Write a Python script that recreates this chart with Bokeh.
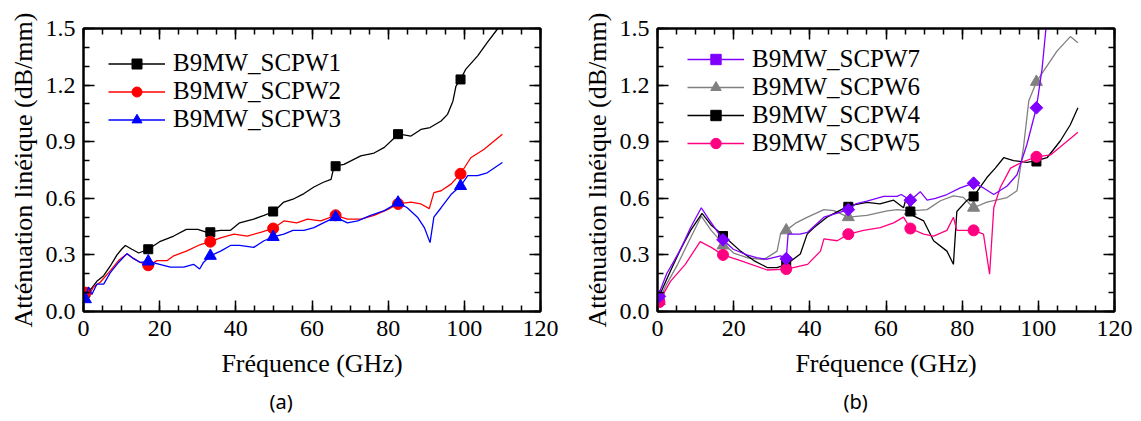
import math
from bokeh.plotting import figure
from bokeh.models import (FixedTicker, PrintfTickFormatter, LinearAxis, Range1d,
                          Legend, LegendItem, Title)
from bokeh.layouts import row
from bokeh.embed import file_html
from bokeh.resources import INLINE

# ---------------- data : panel (a) ----------------
f1 = [0.3, 1, 2, 3.5, 5.3, 7, 8.8, 10, 11, 12.7, 14.5, 17, 20, 23.7, 27, 30, 32.4, 36, 38.6, 41,
      44.7, 47.4, 50, 52.6, 55, 57.9, 60.5, 63, 65, 65.8, 68.4, 72.8, 76.3, 79, 81.6, 82.9, 86,
      88.6, 91, 93.9, 95.6, 97, 97.8, 99, 100.4, 103.5, 106, 108.8, 110]
v1 = [0.09, 0.11, 0.12, 0.16, 0.19, 0.24, 0.30, 0.33, 0.35, 0.33, 0.31, 0.33, 0.37, 0.40, 0.435,
      0.435, 0.42, 0.43, 0.43, 0.47, 0.49, 0.51, 0.53, 0.58, 0.595, 0.625, 0.66, 0.685, 0.70, 0.77,
      0.78, 0.825, 0.84, 0.87, 0.92, 0.94, 0.93, 0.965, 0.975, 1.01, 1.045, 1.115, 1.195, 1.23,
      1.285, 1.355, 1.425, 1.50, 1.53]

f2 = [0.3, 1.3, 2.6, 4.4, 7, 9.2, 11.4, 13.2, 14.9, 17.1, 19.3, 22, 23.7, 27, 30.7, 33.3, 36,
      39.5, 43, 46.5, 49.8, 52.6, 56, 58.8, 62.3, 66.2, 69.3, 72.8, 76.3, 79.8, 82.6, 86, 88.6,
      90.8, 92, 93.9, 96.5, 99, 101.7, 105.2, 107.9, 110]
v2 = [0.11, 0.08, 0.13, 0.155, 0.215, 0.27, 0.305, 0.28, 0.26, 0.245, 0.27, 0.27, 0.295, 0.32,
      0.355, 0.37, 0.39, 0.41, 0.40, 0.42, 0.44, 0.48, 0.47, 0.49, 0.48, 0.51, 0.49, 0.49, 0.51,
      0.54, 0.57, 0.58, 0.57, 0.545, 0.63, 0.64, 0.675, 0.73, 0.815, 0.86, 0.905, 0.94]

f3 = [0.4, 1.3, 2.2, 3.5, 5.3, 7, 9.2, 11.4, 13.2, 14.9, 17.1, 20, 22.8, 26.3, 28.9, 30.5, 31.5,
      33.3, 36, 38.6, 41, 44.7, 47.4, 49.8, 52.6, 55, 57.9, 60.5, 63, 66.2, 69.3, 72, 75.4, 79,
      82.6, 85, 87.7, 89.5, 91, 92, 93.9, 96.5, 99, 100.9, 103.5, 106, 110]
v3 = [0.065, 0.13, 0.09, 0.145, 0.145, 0.205, 0.26, 0.307, 0.28, 0.26, 0.265, 0.25, 0.235, 0.235,
      0.25, 0.225, 0.26, 0.295, 0.32, 0.35, 0.35, 0.34, 0.375, 0.395, 0.41, 0.43, 0.43, 0.445,
      0.47, 0.50, 0.47, 0.48, 0.51, 0.535, 0.577, 0.55, 0.50, 0.445, 0.365, 0.50, 0.55, 0.62,
      0.665, 0.72, 0.72, 0.735, 0.79]

mf_a = [0.5, 17, 33.3, 49.8, 66.2, 82.6, 99]
m1 = [0.10, 0.33, 0.42, 0.53, 0.77, 0.94, 1.23]
m2 = [0.10, 0.245, 0.37, 0.44, 0.51, 0.57, 0.73]
m3 = [0.065, 0.265, 0.295, 0.395, 0.50, 0.577, 0.665]

# ---------------- data : panel (b) ----------------
f7 = [0.3, 2.4, 4.4, 6.3, 8.7, 11.5, 13.1, 15, 17.2, 19.9, 23.5, 26, 28.8, 32.3, 33.8, 34.3, 37.4,
      39.4, 43.7, 47, 50.1, 52, 55, 59.4, 62.9, 64, 66.4, 69, 70.8, 73, 76, 79.5, 83, 85.6, 88.3,
      91.8, 94.4, 97, 99.5, 101, 102, 103]
v7 = [0.09, 0.20, 0.27, 0.34, 0.445, 0.55, 0.50, 0.445, 0.38, 0.33, 0.30, 0.285, 0.277, 0.295,
      0.28, 0.41, 0.41, 0.42, 0.50, 0.52, 0.54, 0.57, 0.585, 0.61, 0.61, 0.62, 0.59, 0.635, 0.59,
      0.60, 0.62, 0.655, 0.68, 0.655, 0.62, 0.665, 0.725, 0.885, 1.08, 1.29, 1.5, 1.7]

f6 = [0.3, 2.4, 5.3, 8.3, 11.5, 14.1, 17.2, 20, 23.5, 27.9, 31.4, 32.3, 33.8, 36.4, 39.4, 43.7,
      46.3, 50.1, 55, 60.3, 63, 66.4, 70.8, 74.3, 77.7, 80.3, 83, 86.5, 91.8, 94.4, 96.1, 97.5,
      99.5, 101.4, 104.9, 108.4, 110.4]
v6 = [0.055, 0.145, 0.25, 0.375, 0.505, 0.43, 0.36, 0.31, 0.285, 0.275, 0.32, 0.41, 0.43, 0.47,
      0.50, 0.54, 0.535, 0.50, 0.51, 0.533, 0.54, 0.533, 0.54, 0.587, 0.613, 0.605, 0.55, 0.58,
      0.604, 0.64, 0.87, 1.117, 1.217, 1.275, 1.38, 1.457, 1.425]

f4 = [0.3, 3.4, 6.3, 8.7, 11.7, 14, 17.4, 21.8, 25.3, 28.8, 31.4, 33.9, 37.5, 39.3, 41.1, 44.5,
      50.2, 55, 58.4, 62, 64.6, 65.3, 67.2, 69.9, 72.5, 76, 77.7, 78.6, 81.3, 83, 86.5, 88.7,
      90.9, 93.5, 97, 99.6, 102.3, 105.8, 108.4, 110.4]
v4 = [0.075, 0.215, 0.34, 0.43, 0.52, 0.46, 0.40, 0.32, 0.27, 0.233, 0.233, 0.25, 0.305, 0.41,
      0.445, 0.50, 0.56, 0.578, 0.57, 0.59, 0.55, 0.60, 0.507, 0.48, 0.375, 0.32, 0.25, 0.53,
      0.59, 0.61, 0.71, 0.76, 0.815, 0.80, 0.79, 0.80, 0.815, 0.905, 0.99, 1.08]

f5 = [0.3, 3.4, 7.3, 11.2, 14.1, 17.2, 21.8, 28.8, 33.9, 39.4, 42.8, 43.7, 47.2, 50.2, 54.1,
      58.5, 62, 64.6, 66.4, 69.9, 72.5, 76, 77.7, 78.6, 83, 85.6, 87.2, 88.3, 90, 92.7, 96.1,
      99.6, 103.2, 106.6, 110.4]
v5 = [0.048, 0.16, 0.25, 0.37, 0.34, 0.30, 0.27, 0.22, 0.225, 0.25, 0.32, 0.385, 0.375, 0.41,
      0.43, 0.445, 0.47, 0.50, 0.44, 0.41, 0.40, 0.43, 0.50, 0.43, 0.43, 0.41, 0.198, 0.55,
      0.657, 0.76, 0.795, 0.82, 0.83, 0.887, 0.95]

mf_b = [0.5, 17.2, 33.8, 50.1, 66.4, 83, 99.5]
m7 = [0.08, 0.38, 0.28, 0.54, 0.59, 0.68, 1.08]
m6 = [0.055, 0.35, 0.43, 0.50, 0.533, 0.55, 1.217]
m4 = [0.075, 0.40, 0.25, 0.555, 0.53, 0.61, 0.795]
m5 = [0.05, 0.30, 0.225, 0.41, 0.44, 0.43, 0.82]

x_ticks = [0, 20, 40, 60, 80, 100, 120]
x_minor = list(range(0, 121, 5))
y_ticks = [0.0, 0.3, 0.6, 0.9, 1.2, 1.5]
y_minor = [i / 10 for i in range(0, 16)]

SERIF = "Liberation Serif"


def style_axis(ax, labels=True, standoff=10):
    ax.axis_line_width = 2
    ax.axis_line_color = "black"
    ax.major_tick_in = 11
    ax.major_tick_out = 0
    ax.minor_tick_in = 6
    ax.minor_tick_out = 0
    ax.major_tick_line_width = 1.5
    ax.minor_tick_line_width = 1.5
    ax.major_tick_line_color = "black"
    ax.minor_tick_line_color = "black"
    if labels:
        ax.major_label_text_font = SERIF
        ax.major_label_text_font_size = "24px"
        ax.major_label_text_color = "black"
        ax.major_label_standoff = standoff
        ax.axis_label_text_font = SERIF
        ax.axis_label_text_font_size = "26px"
        ax.axis_label_text_font_style = "normal"
        ax.axis_label_text_color = "black"
    else:
        ax.major_label_text_font_size = "10px"
        ax.major_label_standoff = 0


def make_fig(border_right, caption):
    p = figure(frame_width=457, frame_height=283, x_range=Range1d(0, 120), y_range=Range1d(0, 1.5),
               output_backend="svg", toolbar_location=None,
               min_border_left=83, min_border_right=border_right,
               min_border_top=28, min_border_bottom=20)
    p.grid.visible = False
    p.outline_line_color = "black"
    p.outline_line_width = 2
    p.xaxis.ticker = FixedTicker(ticks=x_ticks, minor_ticks=x_minor)
    p.yaxis.ticker = FixedTicker(ticks=y_ticks, minor_ticks=y_minor)
    p.yaxis.formatter = PrintfTickFormatter(format="%.1f")
    p.xaxis.axis_label = "Fréquence (GHz)"
    p.yaxis.axis_label = "Atténuation linéique (dB/mm)"
    p.xaxis.axis_label_standoff = 10
    p.yaxis.axis_label_standoff = 5
    style_axis(p.xaxis[0], standoff=9)
    style_axis(p.yaxis[0], standoff=8)
    top = LinearAxis(ticker=FixedTicker(ticks=x_ticks, minor_ticks=x_minor),
                     major_label_overrides={t: "" for t in x_ticks})
    style_axis(top, labels=False)
    p.add_layout(top, "above")
    right = LinearAxis(ticker=FixedTicker(ticks=y_ticks, minor_ticks=y_minor),
                       major_label_overrides={t: "" for t in y_ticks})
    style_axis(right, labels=False)
    p.add_layout(right, "right")
    cap = Title(text=caption, align="left", offset=186, standoff=10,
                text_font="Noto Sans", text_font_size="20px",
                text_font_style="normal", text_color="black")
    p.add_layout(cap, "below")
    return p


def add_series(p, f, v, mf, mv, color, marker, size, name, angle=0.0):
    lr = p.line(f, v, line_color=color, line_width=1.3)
    sr = p.scatter(mf, mv, marker=marker, size=size, angle=angle,
                   fill_color=color, line_color=color)
    return LegendItem(label=name, renderers=[lr, sr])


def add_legend(p, items, loc, rowh, spacing):
    lg = Legend(items=items, location=loc, label_text_font=SERIF, label_text_font_size="25px",
                label_text_color="black", glyph_width=57, glyph_height=rowh, label_height=rowh,
                spacing=spacing, padding=0, margin=0, label_standoff=8, border_line_color=None,
                background_fill_alpha=0)
    p.add_layout(lg)


# panel (a)
pa = make_fig(34, "(a)")
it1 = add_series(pa, f1, v1, mf_a, m1, "black", "square", 9, "B9MW_SCPW1")
it2 = add_series(pa, f2, v2, mf_a, m2, "red", "circle", 11, "B9MW_SCPW2")
it3 = add_series(pa, f3, v3, mf_a, m3, "blue", "triangle", 12, "B9MW_SCPW3")
add_legend(pa, [it1, it2, it3], (25, 178), 25, -2)

# panel (b)
pb = make_fig(20, "(b)")
it6 = add_series(pb, f6, v6, mf_b, m6, "gray", "triangle", 12, "B9MW_SCPW6")
it4 = add_series(pb, f4, v4, mf_b, m4, "black", "square", 9, "B9MW_SCPW4")
it5 = add_series(pb, f5, v5, mf_b, m5, "#ff0080", "circle", 11, "B9MW_SCPW5")
it7 = add_series(pb, f7, v7, mf_b, m7, "#7f00ff", "square", 9, "B9MW_SCPW7", angle=math.pi / 4)
add_legend(pb, [it7, it6, it4, it5], (30, 154), 26, -1)

layout = row(pa, pb)
open("out.html", "w").write(file_html(layout, INLINE))
